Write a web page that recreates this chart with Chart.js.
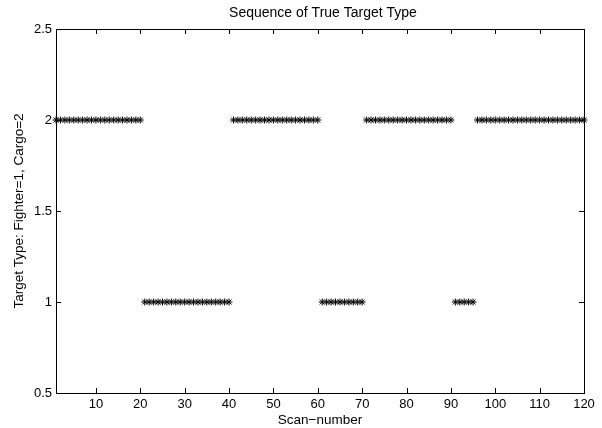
<!DOCTYPE html>
<html>
<head>
<meta charset="utf-8">
<script src="https://cdn.jsdelivr.net/npm/chart.js@4/dist/chart.umd.min.js"></script>
<style>
  html, body { margin: 0; padding: 0; background: #fff; }
  #wrap { width: 602px; height: 428px; }
</style>
</head>
<body>
<div id="wrap"><canvas id="chart" width="602" height="428"></canvas></div>
<script>
// Данные: тип цели на каждом скане (1 = Fighter, 2 = Cargo)
const targetType = [
    2, 2, 2, 2, 2, 2, 2, 2, 2, 2,
    2, 2, 2, 2, 2, 2, 2, 2, 2, 2,
    1, 1, 1, 1, 1, 1, 1, 1, 1, 1,
    1, 1, 1, 1, 1, 1, 1, 1, 1, 1,
    2, 2, 2, 2, 2, 2, 2, 2, 2, 2,
    2, 2, 2, 2, 2, 2, 2, 2, 2, 2,
    1, 1, 1, 1, 1, 1, 1, 1, 1, 1,
    2, 2, 2, 2, 2, 2, 2, 2, 2, 2,
    2, 2, 2, 2, 2, 2, 2, 2, 2, 2,
    1, 1, 1, 1, 1, 2, 2, 2, 2, 2,
    2, 2, 2, 2, 2, 2, 2, 2, 2, 2,
    2, 2, 2, 2, 2, 2, 2, 2, 2, 2
];
const xTicks = [10, 20, 30, 40, 50, 60, 70, 80, 90, 100, 110, 120];
const yTicks = [0.5, 1, 1.5, 2, 2.5];

const chartTitle = 'Sequence of True Target Type';
const xLabel = 'Scan\u2212number';
const yLabel = 'Target Type: Fighter=1, Cargo=2';

const FONT = '"Liberation Sans", Arial, Helvetica, sans-serif';

const points = targetType.map((v, i) => ({ x: i + 1, y: v }));

// Рамка, внутренние засечки и заголовок в стиле MATLAB
const framePlugin = {
    id: 'frame',
    afterDraw(chart) {
        const ctx = chart.ctx;
        const a = chart.chartArea;
        const xs = chart.scales.x;
        const ys = chart.scales.y;
        const len = 5;
        ctx.save();
        ctx.strokeStyle = '#000';
        ctx.lineWidth = 1;
        ctx.strokeRect(Math.round(a.left) + 0.5, Math.round(a.top) + 0.5,
            Math.round(a.right - a.left), Math.round(a.bottom - a.top));
        ctx.beginPath();
        xTicks.forEach(t => {
            const px = Math.round(xs.getPixelForValue(t)) + 0.5;
            ctx.moveTo(px, a.bottom); ctx.lineTo(px, a.bottom - len);
            ctx.moveTo(px, a.top); ctx.lineTo(px, a.top + len);
        });
        yTicks.forEach(t => {
            const py = Math.round(ys.getPixelForValue(t)) + 0.5;
            ctx.moveTo(a.left, py); ctx.lineTo(a.left + len, py);
            ctx.moveTo(a.right, py); ctx.lineTo(a.right - len, py);
        });
        ctx.stroke();

        // Заголовок
        ctx.fillStyle = '#000';
        ctx.font = '14px ' + FONT;
        ctx.textAlign = 'center';
        ctx.textBaseline = 'middle';
        ctx.fillText(chartTitle, (a.left + a.right) / 2 + 3, 13);
        ctx.restore();
    }
};

new Chart(document.getElementById('chart'), {
    type: 'scatter',
    data: {
        datasets: [{
            data: points,
            pointStyle: 'star',
            pointRadius: 3.5,
            pointHoverRadius: 3.5,
            borderColor: '#000',
            backgroundColor: '#000',
            borderWidth: 1,
            clip: false
        }]
    },
    options: {
        responsive: false,
        animation: false,
        events: [],
        layout: { padding: { top: 29, right: 18, left: 0, bottom: 0 } },
        plugins: {
            legend: { display: false },
            tooltip: { enabled: false },
            title: { display: false }
        },
        scales: {
            x: {
                type: 'linear',
                min: 1,
                max: 120,
                afterBuildTicks: s => { s.ticks = xTicks.map(v => ({ value: v })); },
                afterFit: s => { s.height = 35; },
                grid: { display: false, drawTicks: false },
                border: { display: false },
                ticks: { color: '#000', font: { family: FONT, size: 13 }, padding: 4, maxRotation: 0 },
                title: { display: true, text: xLabel, color: '#000', font: { family: FONT, size: 13.5 }, padding: 0 }
            },
            y: {
                min: 0.5,
                max: 2.5,
                afterBuildTicks: s => { s.ticks = yTicks.map(v => ({ value: v })); },
                afterFit: s => { s.width = 56; },
                grid: { display: false, drawTicks: false },
                border: { display: false },
                ticks: {
                    color: '#000', font: { family: FONT, size: 13 }, padding: 4,
                    callback: v => String(v)
                },
                title: { display: true, text: yLabel, color: '#000', font: { family: FONT, size: 13.5 }, padding: { top: 11 } }
            }
        }
    },
    plugins: [framePlugin]
});
</script>
</body>
</html>
